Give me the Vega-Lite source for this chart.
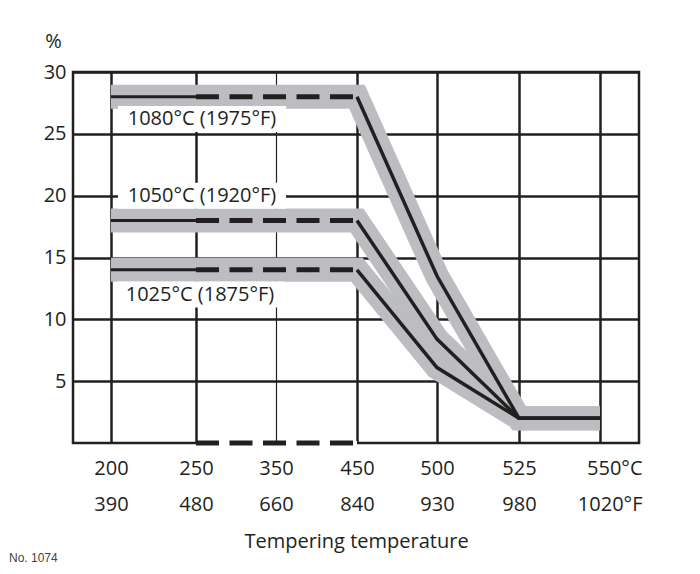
{
  "$schema": "https://vega.github.io/schema/vega-lite/v6.json",
  "width": 566,
  "height": 371,
  "autosize": {"type": "none"},
  "padding": {"left": 73, "top": 72, "right": 61, "bottom": 131},
  "background": "white",
  "config": {
    "view": {"stroke": "#231f20", "strokeWidth": 2.5},
    "font": "Open Sans",
    "axis": {"domain": false, "ticks": false, "labelFont": "Open Sans", "titleFont": "Open Sans", "labelColor": "#231f20", "titleColor": "#231f20", "gridColor": "#231f20", "gridOpacity": 1}
  },
  "title": {"text": "No. 1074", "orient": "bottom", "anchor": "start", "frame": "group", "fontSize": 12, "font": "Liberation Sans", "fontWeight": "normal", "color": "#444444", "dx": -64, "offset": 2},
  "datasets": {
    "curves": [
      {"series": "1080°C", "temp": 200, "pct": 28},
      {"series": "1080°C", "temp": 250, "pct": 28},
      {"series": "1080°C", "temp": 450, "pct": 28},
      {"series": "1080°C", "temp": 500, "pct": 13.5},
      {"series": "1080°C", "temp": 525, "pct": 2},
      {"series": "1080°C", "temp": 550, "pct": 2},
      {"series": "1050°C", "temp": 200, "pct": 18},
      {"series": "1050°C", "temp": 250, "pct": 18},
      {"series": "1050°C", "temp": 450, "pct": 18},
      {"series": "1050°C", "temp": 500, "pct": 8.4},
      {"series": "1050°C", "temp": 525, "pct": 2},
      {"series": "1050°C", "temp": 550, "pct": 2},
      {"series": "1025°C", "temp": 200, "pct": 14},
      {"series": "1025°C", "temp": 250, "pct": 14},
      {"series": "1025°C", "temp": 450, "pct": 14},
      {"series": "1025°C", "temp": 500, "pct": 6.1},
      {"series": "1025°C", "temp": 525, "pct": 2},
      {"series": "1025°C", "temp": 550, "pct": 2}
    ],
    "labels": [
      {"label": "1080°C (1975°F)", "temp": 257.5, "pct": 26.2},
      {"label": "1050°C (1920°F)", "temp": 257.5, "pct": 20},
      {"label": "1025°C (1875°F)", "temp": 255, "pct": 12}
    ],
    "floor": [
      {"temp": 250, "pct": 0},
      {"temp": 450, "pct": 0}
    ]
  },
  "encoding": {
    "x": {
      "field": "temp", "type": "quantitative",
      "scale": {"domain": [177.6, 200, 250, 350, 450, 500, 525, 550, 562.1], "range": [0, 38, 123, 203, 284, 364, 446, 527, 566], "nice": false, "zero": false},
      "axis": {
        "values": [200, 250, 350, 450, 500, 525, 550],
        "grid": true,
        "gridWidth": {"condition": {"test": "datum.value == 350", "value": 1.2}, "value": 2.5},
        "labelExpr": "datum.value == 200 ? ['200','390'] : datum.value == 250 ? ['250','480'] : datum.value == 350 ? ['350','660'] : datum.value == 450 ? ['450','840'] : datum.value == 500 ? ['500','930'] : datum.value == 525 ? ['525','980'] : ['550°C','1020°F']",
        "labelFontSize": 20,
        "labelLineHeight": 36,
        "labelBaseline": "middle",
        "labelPadding": 25,
        "labelAlign": {"condition": {"test": "datum.value == 550", "value": "right"}, "value": "center"},
        "labelOffset": {"condition": {"test": "datum.value == 550", "value": 42}, "value": 0},
        "labelOverlap": false,
        "labelBound": false,
        "labelFlush": false,
        "title": "Tempering temperature",
        "titleFontSize": 20,
        "titleFontWeight": "normal",
        "titleY": 98,
        "titleBaseline": "middle"
      }
    },
    "y": {
      "field": "pct", "type": "quantitative",
      "scale": {"domain": [0, 30], "nice": false, "zero": false},
      "axis": {
        "values": [5, 10, 15, 20, 25, 30],
        "grid": true,
        "gridWidth": 2.5,
        "labelFontSize": 20,
        "labelPadding": 7,
        "labelBaseline": "middle",
        "title": "%",
        "titleAngle": 0,
        "titleX": -20,
        "titleY": -31,
        "titleAlign": "center",
        "titleBaseline": "middle",
        "titleFontSize": 20,
        "titleFontWeight": "normal"
      }
    }
  },
  "layer": [
    {"data": {"name": "curves"}, "mark": {"type": "line", "color": "#bcbdc0", "strokeWidth": 24, "strokeCap": "butt", "strokeJoin": "miter"}, "encoding": {"detail": {"field": "series"}}},
    {"data": {"name": "labels"}, "mark": {"type": "rect", "width": 168, "height": 26, "color": "white"}},
    {"data": {"name": "floor"}, "mark": {"type": "line", "color": "white", "strokeWidth": 4, "strokeCap": "butt"}, "encoding": {}},
    {"data": {"name": "floor"}, "mark": {"type": "line", "color": "#231f20", "strokeWidth": 5, "strokeDash": [23, 10.5], "strokeCap": "butt"}, "encoding": {}},
    {"data": {"name": "curves"}, "transform": [{"filter": "datum.temp <= 250"}], "mark": {"type": "line", "color": "#231f20", "strokeWidth": 3, "strokeCap": "butt"}, "encoding": {"detail": {"field": "series"}}},
    {"data": {"name": "curves"}, "transform": [{"filter": "datum.temp >= 250 && datum.temp <= 450"}], "mark": {"type": "line", "color": "#231f20", "strokeWidth": 5, "strokeDash": [23, 10.5], "strokeCap": "butt"}, "encoding": {"detail": {"field": "series"}}},
    {"data": {"name": "curves"}, "transform": [{"filter": "datum.temp >= 450"}], "mark": {"type": "line", "color": "#231f20", "strokeWidth": 3.5, "strokeCap": "butt", "strokeJoin": "miter"}, "encoding": {"detail": {"field": "series"}}},
    {"data": {"name": "labels"}, "mark": {"type": "text", "fontSize": 20, "color": "#231f20", "baseline": "middle", "align": "center"}, "encoding": {"text": {"field": "label"}}}
  ]
}
